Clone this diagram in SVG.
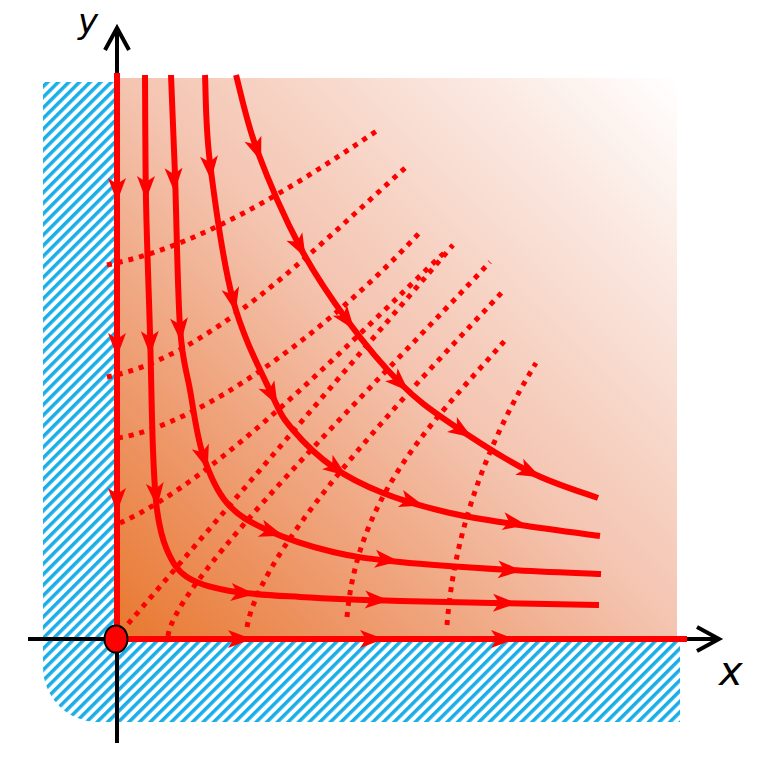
<svg xmlns="http://www.w3.org/2000/svg" xmlns:xlink="http://www.w3.org/1999/xlink" width="780" height="773" viewBox="0 0 780 773">
<style>
.sol{fill:none;stroke:#ff0000;stroke-width:6}
.dot{fill:none;stroke:#ff0000;stroke-width:5;stroke-dasharray:5 6}
.ax{fill:none;stroke:#000;stroke-width:4}
.lbl{font-family:"DejaVu Sans","Liberation Sans",sans-serif;font-style:italic;fill:#000}
</style>
<defs>
<linearGradient id="bg" gradientUnits="userSpaceOnUse" x1="117" y1="639" x2="677" y2="78">
<stop offset="0" stop-color="#e8782e"/>
<stop offset="0.2" stop-color="#ed9463"/>
<stop offset="0.5" stop-color="#f4c4b0"/>
<stop offset="0.8" stop-color="#fae6de"/>
<stop offset="1" stop-color="#ffffff"/>
</linearGradient>
<pattern id="hatch" patternUnits="userSpaceOnUse" width="20" height="7.5" patternTransform="rotate(-45)">
<rect x="0" y="0" width="20" height="3.5" fill="#1aaee8"/>
</pattern>
<path id="ah" d="M12,0 L-12,-9 L-6,0 L-12,9 Z" fill="#ff0000"/>
</defs>
<g id="region">
<rect x="117" y="78" width="560" height="561" fill="url(#bg)"/>
</g>
<g id="hatched">
<path d="M43,82 H117 V639 H680 V722 H98 A55,55 0 0 1 43,667 Z" fill="url(#hatch)"/>
</g>
<g id="connectors">
<g id="dotted">
<path class="dot" d="M107,265 C197,247 288,191 378,130"/>
<path class="dot" d="M107,377 C207,357 305,258 405,168"/>
<path class="dot" d="M118,438 C200,425 330,330 422,230"/>
<path class="dot" d="M120,523 C220,478 355,337 445,252"/>
<path class="dot" d="M121,632 L453,245"/>
<path class="dot" d="M168,636 C175,580 380,380 490,262"/>
<path class="dot" d="M247,627 C262,540 430,370 505,289"/>
<path class="dot" d="M347,617 C358,490 440,415 508,337"/>
<path class="dot" d="M447,625 C455,520 495,430 536,363"/>
</g>
<g id="trajectories">
<path class="sol" d="M236,75 C239.5,87.5 246.3,121.3 257,150 C267.7,178.7 285,218.7 300,247 C315,275.3 330.3,297.3 347,320 C363.7,342.7 382.8,365.8 400,383 C417.2,400.2 428.3,408.2 450,423 C471.7,437.8 505.3,459.5 530,472 C554.7,484.5 586.7,493.7 598,498"/>
<path class="sol" d="M205,75 C205.8,89.7 205.3,125.5 210,163 C214.7,200.5 222.7,261.3 233,300 C243.3,338.7 262,373.3 272,395 C282,416.7 282.8,418 293,430 C303.2,442 318,456.5 333,467 C348,477.5 363.5,485.3 383,493 C402.5,500.7 427.2,507.7 450,513 C472.8,518.3 495,521.2 520,525 C545,528.8 586.7,534.2 600,536"/>
<path class="sol" d="M171,75 C171.7,91.7 173.5,133 175,175 C176.5,217 177.5,291.2 180,327 C182.5,362.8 186.2,368.7 190,390 C193.8,411.3 196.8,436.2 203,455 C209.2,473.8 216.3,490.5 227,503 C237.7,515.5 249.3,521.8 267,530 C284.7,538.2 310.8,546.7 333,552 C355.2,557.3 370.5,559 400,562 C429.5,565 476.5,568 510,570 C543.5,572 585.8,573.3 601,574"/>
<path class="sol" d="M145,75 C145.2,95.8 145.2,157 146,200 C146.8,243 148.8,291.3 150,333 C151.2,374.7 151.8,420.5 153,450 C154.2,479.5 154.7,493.3 157,510 C159.3,526.7 162,538.8 167,550 C172,561.2 176.5,570.2 187,577 C197.5,583.8 211.2,587.7 230,591 C248.8,594.3 271.7,595.3 300,597 C328.3,598.7 350.2,599.7 400,601 C449.8,602.3 565.8,604.3 599,605"/>
<path class="sol" d="M117,639 V73"/>
<path class="sol" d="M117,639 H687"/>
</g>
<g id="arrowheads">
<use xlink:href="#ah" transform="translate(117,190) rotate(90)"/>
<use xlink:href="#ah" transform="translate(117,345) rotate(90)"/>
<use xlink:href="#ah" transform="translate(117,500) rotate(90)"/>
<use xlink:href="#ah" transform="translate(240,639)"/>
<use xlink:href="#ah" transform="translate(372,639)"/>
<use xlink:href="#ah" transform="translate(503,639)"/>
<use xlink:href="#ah" transform="translate(146,188) rotate(90)"/>
<use xlink:href="#ah" transform="translate(150,343) rotate(89)"/>
<use xlink:href="#ah" transform="translate(156,495) rotate(84)"/>
<use xlink:href="#ah" transform="translate(243,593) rotate(5)"/>
<use xlink:href="#ah" transform="translate(377,600) rotate(2)"/>
<use xlink:href="#ah" transform="translate(505,603) rotate(1)"/>
<use xlink:href="#ah" transform="translate(174,180) rotate(88)"/>
<use xlink:href="#ah" transform="translate(180,330) rotate(85)"/>
<use xlink:href="#ah" transform="translate(204,458) rotate(72)"/>
<use xlink:href="#ah" transform="translate(272,532) rotate(18)"/>
<use xlink:href="#ah" transform="translate(387,560) rotate(6)"/>
<use xlink:href="#ah" transform="translate(510,570) rotate(3)"/>
<use xlink:href="#ah" transform="translate(210,168) rotate(85)"/>
<use xlink:href="#ah" transform="translate(233,300) rotate(77)"/>
<use xlink:href="#ah" transform="translate(272,395) rotate(62)"/>
<use xlink:href="#ah" transform="translate(337,469) rotate(36)"/>
<use xlink:href="#ah" transform="translate(412,502) rotate(17)"/>
<use xlink:href="#ah" transform="translate(515,523) rotate(9)"/>
<use xlink:href="#ah" transform="translate(257,150) rotate(70)"/>
<use xlink:href="#ah" transform="translate(300,247) rotate(62)"/>
<use xlink:href="#ah" transform="translate(347,320) rotate(53)"/>
<use xlink:href="#ah" transform="translate(400,383) rotate(44)"/>
<use xlink:href="#ah" transform="translate(462,431) rotate(33)"/>
<use xlink:href="#ah" transform="translate(530,472) rotate(26)"/>
</g>
</g>
<g id="axes">
<path class="ax" d="M28,639 H117 M117,639 V743"/>
<path class="ax" d="M687,639 H718 M697,627 L719,639 L697,651"/>
<path class="ax" d="M117,73 V30 M105,50 L117,28 L129,50"/>
</g>
<g id="origin">
<ellipse cx="116" cy="639" rx="11.5" ry="13.5" fill="#ff0000" stroke="#000" stroke-width="2"/>
</g>
<g id="labels">
<text class="lbl" x="78" y="33" font-size="34">y</text>
<text class="lbl" x="719" y="685" font-size="40">x</text>
</g>
</svg>
